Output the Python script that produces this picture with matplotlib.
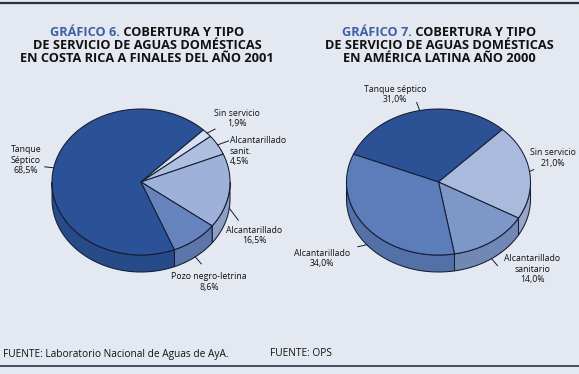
import numpy as np
import matplotlib
matplotlib.use("Agg")
from matplotlib import pyplot as plt
from matplotlib.patches import Polygon

plt.rcParams['font.family'] = ['Open Sans', 'DejaVu Sans']

# Gráfico 6 - Costa Rica 2001
cr_labels = ['Tanque\nSéptico', 'Sin servicio', 'Alcantarillado\nsanit.', 'Alcantarillado', 'Pozo negro-letrina']
cr_values = [68.5, 1.9, 4.5, 16.5, 8.6]
cr_colors = ['#2b5297', '#d7dff0', '#aebfe0', '#9db1d9', '#6783bd']

# Gráfico 7 - América Latina 2000
al_labels = ['Tanque séptico', 'Sin servicio', 'Alcantarillado\nsanitario', 'Alcantarillado']
al_values = [31.0, 21.0, 14.0, 34.0]
al_colors = ['#2d5195', '#a9badc', '#7d97c9', '#5c7cba']

BG = '#e3e8f1'
EDGE = '#141d33'
BLUE_TXT = '#3e5fa6'

W, H = 579, 374
fig = plt.figure(figsize=(W / 100, H / 100), dpi=100)
fig.patch.set_facecolor(BG)
ax = fig.add_axes([0, 0, 1, 1])
ax.set_xlim(0, W)
ax.set_ylim(H, 0)
ax.axis('off')


def darker(c, f=0.9):
    r, g, b = matplotlib.colors.to_rgb(c)
    return (r * f, g * f, b * f)


def pie3d(cx, cy, rx, ry, depth, values, colors, start):
    fr = np.array(values) / np.sum(values)
    edges = start - 360 * np.concatenate([[0], np.cumsum(fr)])

    def pt(t, dy=0.0):
        t = np.radians(t)
        return np.column_stack([cx + rx * np.cos(t), cy - ry * np.sin(t) + dy])

    # side walls (front half only)
    for i in range(len(values)):
        a0, a1 = edges[i], edges[i + 1]
        for k in range(-2, 2):
            lo = max(a1, -180 + 360 * k)
            hi = min(a0, 360 * k)
            if hi - lo <= 0:
                continue
            t = np.linspace(lo, hi, 80)
            poly = np.vstack([pt(t), pt(t[::-1], depth)])
            ax.add_patch(Polygon(poly, closed=True, fc=darker(colors[i]),
                                 ec=EDGE, lw=0.75, zorder=2))
    # top surface
    for i in range(len(values)):
        t = np.linspace(edges[i], edges[i + 1], 120)
        poly = np.vstack([[cx, cy], pt(t)])
        ax.add_patch(Polygon(poly, closed=True, fc=colors[i],
                             ec=EDGE, lw=0.75, zorder=3))
    mids = (edges[:-1] + edges[1:]) / 2
    out = []
    for m in mids:
        p = pt(np.array([m]))[0]
        if np.sin(np.radians(m)) < 0:
            p[1] += depth
        out.append(p)
    return out


def label(p, off, txt, x, y, ha='center'):
    ax.plot([p[0], p[0] + off[0]], [p[1], p[1] + off[1]], color=EDGE, lw=0.7, zorder=4)
    ax.text(x, y, txt, ha=ha, va='center', multialignment=ha, fontsize=6.3,
            color='#111111', linespacing=1.15, zorder=5)


def pct(v):
    return f'{v:.1f}%'.replace('.', ',')


# pie 1
pts = pie3d(141, 182, 89, 73, 17, cr_values, cr_colors, 292.1)
label(pts[0], (-9, -1), cr_labels[0] + '\n' + pct(cr_values[0]), 26, 160)
label(pts[1], (8, -4), cr_labels[1] + '\n' + pct(cr_values[1]), 237, 118.5)
label(pts[2], (11, -4), cr_labels[2] + '\n' + pct(cr_values[2]), 230, 151, ha='left')
label(pts[3], (9, 12), cr_labels[3] + '\n' + pct(cr_values[3]), 254, 235.5)
label(pts[4], (6, 7), cr_labels[4] + '\n' + pct(cr_values[4]), 209, 282)

# pie 2
pts = pie3d(438.5, 182, 92, 73, 17, al_values, al_colors, 157.6)
label(pts[0], (-3, -8), al_labels[0] + '\n' + pct(al_values[0]), 395, 94.7)
label(pts[1], (4, -2), al_labels[1] + '\n' + pct(al_values[1]), 553, 158)
label(pts[2], (6, 7), al_labels[2] + '\n' + pct(al_values[2]), 532, 269)
label(pts[3], (-9, 2), al_labels[3] + '\n' + pct(al_values[3]), 322, 258.5)

# titles
renderer = fig.canvas.get_renderer()
tkw = dict(fontsize=9.2, fontweight='bold', va='center', ha='left')


def title(cx, lines, num):
    t1 = ax.text(0, 32, f'GRÁFICO {num}.', color=BLUE_TXT, **tkw)
    t2 = ax.text(0, 32, ' ' + lines[0], color='#111111', **tkw)
    w1 = t1.get_window_extent(renderer).width
    w2 = t2.get_window_extent(renderer).width
    left = cx - (w1 + w2) / 2
    t1.set_x(left)
    t2.set_x(left + w1)
    for j, ln in enumerate(lines[1:]):
        ax.text(cx, 45.5 + 13 * j, ln, color='#111111', **{**tkw, 'ha': 'center'})


title(147, ['COBERTURA Y TIPO', 'DE SERVICIO DE AGUAS DOMÉSTICAS',
            'EN COSTA RICA A FINALES DEL AÑO 2001'], 6)
title(439, ['COBERTURA Y TIPO', 'DE SERVICIO DE AGUAS DOMÉSTICAS',
            'EN AMÉRICA LATINA AÑO 2000'], 7)

# frame lines and sources
ax.plot([0, W], [3, 3], color='#2a3142', lw=1.6)
ax.plot([0, W], [365.5, 365.5], color='#2a3142', lw=1.2)
ax.text(3, 354, 'FUENTE: Laboratorio Nacional de Aguas de AyA.', fontsize=7.3,
        va='center', ha='left', color='#111111')
ax.text(270, 354, 'FUENTE: OPS', fontsize=7.3, va='center', ha='left', color='#111111')

fig.savefig('out.png', dpi=100, facecolor=BG)
